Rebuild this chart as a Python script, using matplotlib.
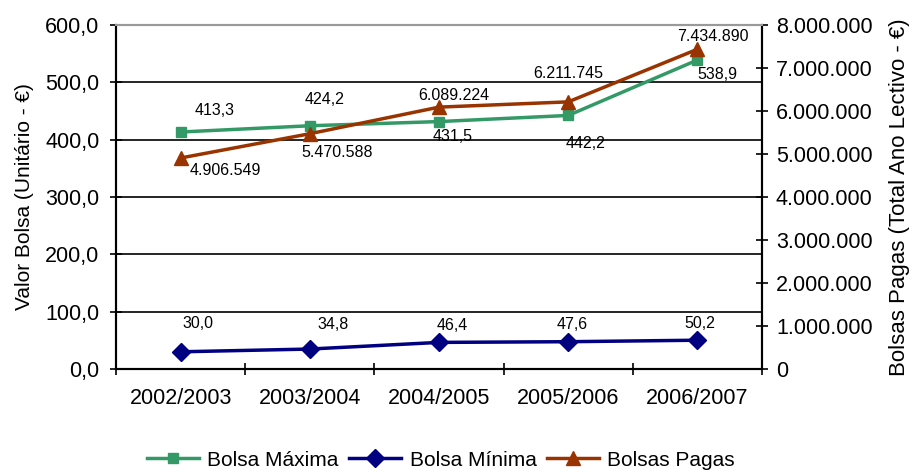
import matplotlib
matplotlib.use("Agg")
import matplotlib.pyplot as plt
from matplotlib.ticker import FuncFormatter

plt.rcParams['font.family'] = ['Liberation Sans', 'DejaVu Sans']

anos = ["2002/2003", "2003/2004", "2004/2005", "2005/2006", "2006/2007"]
bolsa_maxima = [413.3, 424.2, 431.5, 442.2, 538.9]
bolsa_minima = [30.0, 34.8, 46.4, 47.6, 50.2]
bolsas_pagas = [4906549, 5470588, 6089224, 6211745, 7434890]

verde = "#339966"
azul = "#000080"
castanho = "#993300"


def pt_dec(v, pos=None):
    return f"{v:.1f}".replace(".", ",")


def pt_mil(v, pos=None):
    return f"{int(round(v)):,}".replace(",", ".")


fig = plt.figure(figsize=(9.09, 4.70), dpi=100)
ax = fig.add_axes([0.1276, 0.2149, 0.7107, 0.732])
ax2 = ax.twinx()

x = list(range(len(anos)))
l1, = ax.plot(x, bolsa_maxima, color=verde, lw=2.5, marker="s", ms=7, label="Bolsa Máxima")
l2, = ax.plot(x, bolsa_minima, color=azul, lw=2.5, marker="D", ms=9, label="Bolsa Mínima")
l3, = ax2.plot(x, bolsas_pagas, color=castanho, lw=2.5, marker="^", ms=10, label="Bolsas Pagas")

ax.set_xlim(-0.5, len(anos) - 0.5)
ax.set_ylim(0, 600)
ax2.set_ylim(0, 8000000)
ax.set_yticks(range(0, 601, 100))
ax2.set_yticks(range(0, 8000001, 1000000))
ax.yaxis.set_major_formatter(FuncFormatter(pt_dec))
ax2.yaxis.set_major_formatter(FuncFormatter(pt_mil))
ax.set_xticks([i + 0.5 for i in range(-1, len(anos))], minor=False)
ax.set_xticklabels([])
ax.set_xticks(x, minor=True)
ax.set_xticklabels(anos, minor=True)
ax.tick_params(axis="x", which="minor", length=0, labelsize=15.5, pad=14)
ax.tick_params(axis="x", which="major", direction="inout", length=8, width=1.2)
ax.tick_params(axis="y", direction="inout", length=8, width=1.2, labelsize=15.5, pad=8)
ax2.tick_params(axis="y", direction="inout", length=8, width=1.2, labelsize=15.5, pad=6)

ax.grid(axis="y", color="black", lw=1.2)
ax.set_axisbelow(True)
for s in ["left", "bottom", "right"]:
    ax.spines[s].set_linewidth(1.5)
    ax2.spines[s].set_linewidth(1.5)
ax.spines["top"].set_color("#999999")
ax2.spines["top"].set_color("#999999")
ax.spines["top"].set_linewidth(1.5)
ax2.spines["top"].set_linewidth(1.5)

ax.set_ylabel("Valor Bolsa (Unitário - €)", fontsize=15, labelpad=8)
ax2.set_ylabel("Bolsas Pagas (Total Ano Lectivo - €)", fontsize=16, labelpad=12)

# rótulos de dados (deslocamentos em pixels, convertidos em pontos)
px = 0.72
max_off = [(34, 22), (15, 26), (14, -15), (17, -28), (20, -15)]
for i, v in enumerate(bolsa_maxima):
    dx, dy = max_off[i]
    ax.annotate(pt_dec(v), (x[i], v), xytext=(dx * px, dy * px),
                textcoords="offset points", ha="center", va="center", fontsize=11.5)
min_off = [(17, 28), (23, 25), (13, 17), (4, 17), (2, 17)]
for i, v in enumerate(bolsa_minima):
    dx, dy = min_off[i]
    ax.annotate(pt_dec(v), (x[i], v), xytext=(dx * px, dy * px),
                textcoords="offset points", ha="center", va="center", fontsize=11.5)
pag_off = [(45, -13), (27, -19), (15, 12), (0, 28), (15, 13)]
for i, v in enumerate(bolsas_pagas):
    dx, dy = pag_off[i]
    ax2.annotate(pt_mil(v), (x[i], v), xytext=(dx * px, dy * px),
                 textcoords="offset points", ha="center", va="center", fontsize=11.5)

fig.legend(handles=[l1, l2, l3], loc="center", bbox_to_anchor=(0.485, 0.021),
           ncol=3, frameon=False, fontsize=15, handlelength=2.5, columnspacing=0.5,
           handletextpad=0.4)

fig.savefig("out.png", dpi=100)
